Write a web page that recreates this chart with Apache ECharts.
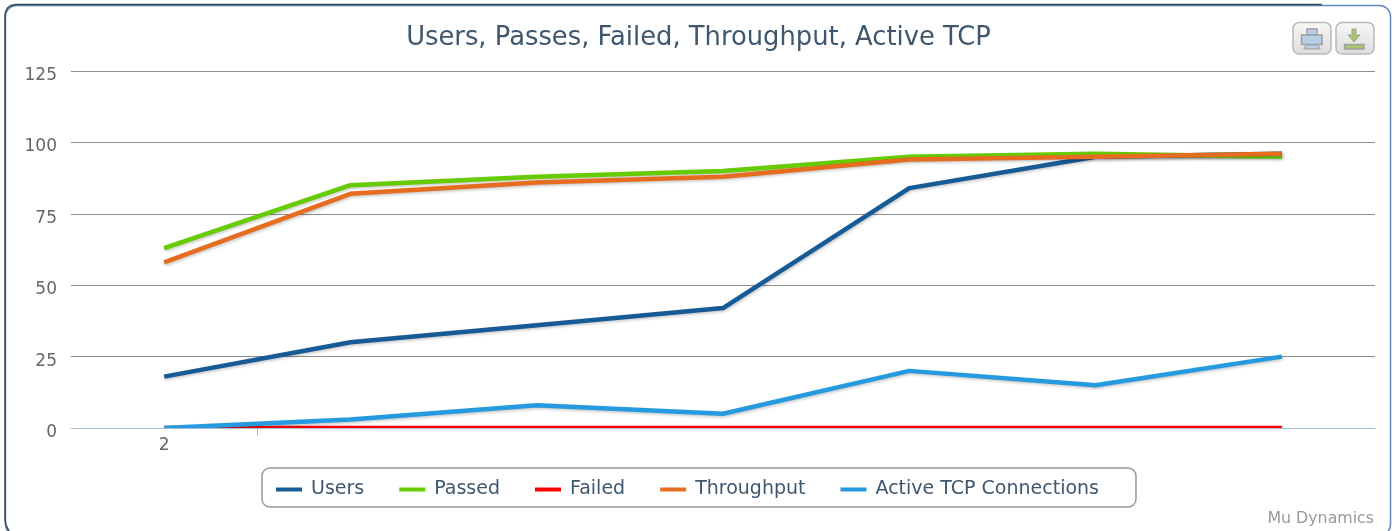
<!DOCTYPE html>
<html><head><meta charset="utf-8">
<style>html,body{margin:0;padding:0;background:#fff;overflow:hidden}#c{width:1395px;height:531px}</style>
<script src="https://cdn.jsdelivr.net/npm/echarts@6/dist/echarts.min.js"></script>
</head><body><div id="c"></div>
<script>
const categories = ["2", "", "", "", "", "", ""];
const users = [18, 30, 36, 42, 84, 95, 96];
const passed = [63, 85, 88, 90, 95, 96, 95];
const failed = [0, 0, 0, 0, 0, 0, 0];
const throughput = [58, 82, 86, 88, 94, 95, 96];
const activeTcp = [0, 3, 8, 5, 20, 15, 25];
const titleText = "Users, Passes, Failed, Throughput, Active TCP";
const creditText = "Mu Dynamics";

const FONT = "DejaVu Sans";
const chart = echarts.init(document.getElementById('c'), null, {renderer: 'canvas'});
function line(name, data, color) {
  return {
    name, data, type: 'line', symbol: 'none', showSymbol: false, color,
    lineStyle: {width: 4.5, color, cap: 'butt', join: 'round',
      shadowColor: 'rgba(0,0,0,0.22)', shadowBlur: 3, shadowOffsetX: 1, shadowOffsetY: 1.5},
    itemStyle: {color}, emphasis: {disabled: true}
  };
}
const btn = (x) => ({type: 'rect', z: 20, shape: {x, y: 22.5, width: 38, height: 31.5, r: 6},
  style: {fill: new echarts.graphic.LinearGradient(0, 0, 0, 1, [{offset: 0, color: '#f8f8f8'}, {offset: 1, color: '#dcdcdc'}]), stroke: '#b8b8b8', lineWidth: 1.5}});
chart.setOption({
  animation: false,
  backgroundColor: '#fff',
  title: {text: titleText, left: 693.5, top: 20, textAlign: 'center',
    textStyle: {fontFamily: FONT, fontSize: 25.8, fontWeight: 'normal', color: '#3E576F'}},
  grid: {left: 71, right: 20, top: 71, bottom: 103, containLabel: false},
  legend: {
    left: 262, top: 468, padding: [12, 37, 8, 14], itemWidth: 26, itemHeight: 4, itemGap: 35,
    icon: 'rect', selectedMode: false,
    borderColor: '#999', borderWidth: 1.5, borderRadius: 8,
    textStyle: {fontFamily: FONT, fontSize: 19, color: '#3E576F', padding: [0, 0, 0, 4]},
    data: ['Users', 'Passed', 'Failed', 'Throughput', 'Active TCP Connections']
  },
  xAxis: {type: 'category', data: categories, boundaryGap: true, z: 5,
    axisLine: {lineStyle: {color: '#a8bcd6', width: 1}},
    axisTick: {show: false},
    axisLabel: {interval: 0, margin: 9, fontFamily: FONT, fontSize: 17, color: '#666'},
    splitLine: {show: false}},
  yAxis: {type: 'value', min: 0, max: 125, interval: 25,
    axisLine: {show: false}, axisTick: {show: false},
    axisLabel: {margin: 14, fontFamily: FONT, fontSize: 17, color: '#666', verticalAlign: 'top', lineHeight: 9},
    splitLine: {lineStyle: {color: '#8e8e8e', width: 1}}},
  series: [
    line('Users', users, '#165A96'),
    line('Passed', passed, '#66CC00'),
    line('Failed', failed, '#FF0000'),
    line('Throughput', throughput, '#E66C1F'),
    line('Active TCP Connections', activeTcp, '#269ADE')
  ],
  graphic: [
    {type: 'rect', z: 4, silent: true, shape: {x: 71, y: 428, width: 1304, height: 6}, style: {fill: '#fff'}},
    {type: 'line', z: 6, silent: true, shape: {x1: 257.5, y1: 428, x2: 257.5, y2: 436}, style: {stroke: '#a8bcd6', lineWidth: 1}},
    {type: 'rect', z: 1, silent: true, shape: {x: 5.5, y: 5.5, width: 1385, height: 530, r: 11},
      style: {fill: 'none', stroke: '#5f88b8', lineWidth: 1.5}},
    {type: 'polyline', z: 1, silent: true,
      shape: {points: [[1322, 4.5], [16, 4.5], [11, 5.5], [7.5, 8], [5.5, 12], [5, 16], [5, 520], [6, 525], [9, 531]]},
      style: {fill: 'none', stroke: '#3a4654', lineWidth: 1.5}},
    btn(1293), btn(1336),
    {type: 'rect', z: 21, shape: {x: 1307, y: 29, width: 10, height: 6}, style: {fill: '#b8cfe8', stroke: '#a0a0a0', lineWidth: 1.5}},
    {type: 'rect', z: 21, shape: {x: 1301.5, y: 35, width: 20.5, height: 9.5}, style: {fill: '#b8cfe8', stroke: '#a0a0a0', lineWidth: 1.5}},
    {type: 'polygon', z: 21, shape: {points: [[1306, 45], [1318, 45], [1320, 49], [1304, 49]]}, style: {fill: '#b8cfe8', stroke: '#a0a0a0', lineWidth: 1}},
    {type: 'rect', z: 21, shape: {x: 1344.5, y: 44.5, width: 19.5, height: 4.5}, style: {fill: '#a9c46c', stroke: '#a0a0a0', lineWidth: 1.5}},
    {type: 'polygon', z: 21, shape: {points: [[1352, 29], [1356, 29], [1356, 35], [1360, 35], [1354, 42], [1348, 35], [1352, 35]]}, style: {fill: '#a9c46c', stroke: '#a0a890', lineWidth: 1}},
    {type: 'text', z: 21, silent: true, style: {text: creditText, x: 1374, y: 511, align: 'right', verticalAlign: 'top',
      fontFamily: FONT, fontSize: 15.8, fill: '#999'}}
  ]
});
</script></body></html>
